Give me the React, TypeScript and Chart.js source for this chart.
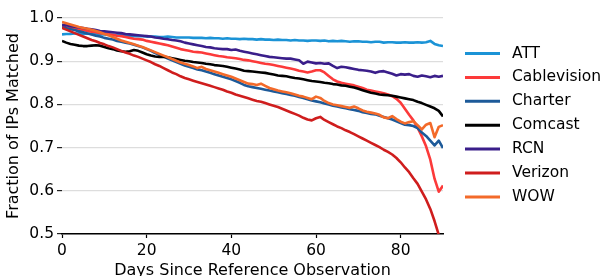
import { useEffect, useRef } from 'react';
import { Chart, registerables } from 'chart.js';

Chart.register(...registerables);

const days = [
  0, 1, 2, 3, 4, 5, 6, 7, 8, 9,
  10, 11, 12, 13, 14, 15, 16, 17, 18, 19,
  20, 21, 22, 23, 24, 25, 26, 27, 28, 29,
  30, 31, 32, 33, 34, 35, 36, 37, 38, 39,
  40, 41, 42, 43, 44, 45, 46, 47, 48, 49,
  50, 51, 52, 53, 54, 55, 56, 57, 58, 59,
  60, 61, 62, 63, 64, 65, 66, 67, 68, 69,
  70, 71, 72, 73, 74, 75, 76, 77, 78, 79,
  80, 81, 82, 83, 84, 85, 86, 87, 88, 89,
  90,
];

const seriesNames = ['ATT', 'Cablevision', 'Charter', 'Comcast', 'RCN', 'Verizon', 'WOW'];

const att = [
  0.962, 0.963, 0.963, 0.964, 0.964, 0.963, 0.964, 0.963, 0.962, 0.962,
  0.962, 0.961, 0.961, 0.960, 0.960, 0.959, 0.959, 0.958, 0.958, 0.958,
  0.957, 0.957, 0.957, 0.956, 0.956, 0.957, 0.956, 0.955, 0.955, 0.955,
  0.955, 0.954, 0.954, 0.954, 0.953, 0.954, 0.953, 0.953, 0.952, 0.953,
  0.952, 0.952, 0.951, 0.952, 0.951, 0.951, 0.950, 0.951, 0.950, 0.950,
  0.949, 0.950, 0.949, 0.949, 0.948, 0.949, 0.948, 0.948, 0.947, 0.948,
  0.948, 0.947, 0.948, 0.946, 0.947, 0.946, 0.947, 0.946, 0.945, 0.946,
  0.946, 0.945, 0.945, 0.944, 0.945, 0.945, 0.943, 0.944, 0.944, 0.943,
  0.943, 0.944, 0.943, 0.943, 0.944, 0.943, 0.944, 0.947, 0.940, 0.937,
  0.935,
];

const cablevision = [
  0.980, 0.978, 0.977, 0.975, 0.973, 0.972, 0.970, 0.968, 0.967, 0.965,
  0.964, 0.962, 0.961, 0.959, 0.958, 0.956, 0.954, 0.952, 0.951, 0.950,
  0.947, 0.945, 0.943, 0.941, 0.939, 0.937, 0.934, 0.931, 0.928, 0.926,
  0.924, 0.922, 0.921, 0.920, 0.918, 0.916, 0.914, 0.912, 0.911, 0.909,
  0.908, 0.907, 0.905, 0.903, 0.902, 0.900, 0.898, 0.896, 0.894, 0.893,
  0.891, 0.889, 0.887, 0.885, 0.883, 0.881, 0.878, 0.876, 0.874, 0.876,
  0.879, 0.879, 0.874, 0.866, 0.858, 0.853, 0.850, 0.848, 0.846, 0.844,
  0.841, 0.838, 0.834, 0.832, 0.830, 0.828, 0.826, 0.823, 0.819, 0.813,
  0.804, 0.790, 0.776, 0.763, 0.746, 0.726, 0.703, 0.672, 0.628, 0.598,
  0.612,
];

const charter = [
  0.978, 0.976, 0.974, 0.972, 0.969, 0.967, 0.964, 0.962, 0.959, 0.957,
  0.954, 0.952, 0.950, 0.947, 0.945, 0.943, 0.941, 0.938, 0.935, 0.932,
  0.928, 0.924, 0.919, 0.915, 0.911, 0.906, 0.902, 0.898, 0.894, 0.890,
  0.887, 0.884, 0.881, 0.879, 0.876, 0.873, 0.870, 0.867, 0.864, 0.861,
  0.858, 0.854, 0.850, 0.845, 0.842, 0.840, 0.838, 0.836, 0.834, 0.832,
  0.830, 0.828, 0.826, 0.824, 0.822, 0.820, 0.817, 0.815, 0.812, 0.809,
  0.807, 0.805, 0.802, 0.800, 0.797, 0.795, 0.793, 0.791, 0.789, 0.787,
  0.785, 0.782, 0.780, 0.778, 0.777, 0.774, 0.771, 0.768, 0.765, 0.761,
  0.757, 0.753, 0.752, 0.750, 0.745, 0.735, 0.727, 0.716, 0.705, 0.716,
  0.699,
];

const comcast = [
  0.947, 0.943, 0.940, 0.938, 0.936, 0.935, 0.935, 0.936, 0.937, 0.936,
  0.933, 0.930, 0.928, 0.925, 0.923, 0.922, 0.923, 0.926, 0.924, 0.920,
  0.916, 0.913, 0.911, 0.910, 0.910, 0.909, 0.907, 0.905, 0.903, 0.901,
  0.900, 0.898, 0.897, 0.896, 0.894, 0.893, 0.891, 0.890, 0.889, 0.887,
  0.885, 0.883, 0.881, 0.878, 0.877, 0.876, 0.875, 0.874, 0.873, 0.871,
  0.869, 0.867, 0.866, 0.865, 0.863, 0.861, 0.860, 0.858, 0.856, 0.854,
  0.853, 0.852, 0.850, 0.849, 0.847, 0.846, 0.844, 0.843, 0.841, 0.839,
  0.836, 0.833, 0.830, 0.827, 0.825, 0.823, 0.822, 0.821, 0.820, 0.818,
  0.816, 0.814, 0.812, 0.810, 0.806, 0.803, 0.799, 0.795, 0.791, 0.785,
  0.772,
];

const rcn = [
  0.984, 0.983, 0.981, 0.980, 0.978, 0.977, 0.975, 0.974, 0.972, 0.970,
  0.969, 0.968, 0.967, 0.966, 0.965, 0.963, 0.962, 0.961, 0.960, 0.959,
  0.958, 0.957, 0.955, 0.954, 0.952, 0.951, 0.949, 0.948, 0.946, 0.943,
  0.941, 0.939, 0.937, 0.935, 0.933, 0.932, 0.930, 0.929, 0.928, 0.928,
  0.926, 0.927, 0.924, 0.922, 0.920, 0.918, 0.916, 0.914, 0.912, 0.910,
  0.909, 0.908, 0.907, 0.906, 0.906, 0.904, 0.902, 0.894, 0.899, 0.897,
  0.895, 0.896, 0.894, 0.895, 0.889, 0.884, 0.887, 0.886, 0.884, 0.882,
  0.880, 0.879, 0.878, 0.876, 0.873, 0.876, 0.877, 0.874, 0.871, 0.867,
  0.870, 0.869, 0.870, 0.866, 0.864, 0.867, 0.865, 0.863, 0.866, 0.864,
  0.866,
];

const verizon = [
  0.977, 0.973, 0.969, 0.965, 0.961, 0.957, 0.953, 0.949, 0.946, 0.942,
  0.939, 0.935, 0.932, 0.928, 0.924, 0.920, 0.917, 0.913, 0.910, 0.906,
  0.902, 0.898, 0.893, 0.889, 0.884, 0.879, 0.874, 0.870, 0.865, 0.861,
  0.858, 0.855, 0.852, 0.849, 0.846, 0.843, 0.840, 0.837, 0.834, 0.830,
  0.827, 0.823, 0.820, 0.817, 0.814, 0.811, 0.808, 0.806, 0.803, 0.800,
  0.797, 0.794, 0.790, 0.786, 0.782, 0.778, 0.774, 0.769, 0.765, 0.763,
  0.768, 0.771, 0.764, 0.759, 0.754, 0.749, 0.745, 0.740, 0.736, 0.731,
  0.726, 0.721, 0.716, 0.711, 0.706, 0.701, 0.695, 0.690, 0.684, 0.676,
  0.666, 0.654, 0.643, 0.629, 0.616, 0.598, 0.580, 0.558, 0.530, 0.498,
  0.470,
];

const wow = [
  0.991, 0.988, 0.985, 0.982, 0.979, 0.977, 0.975, 0.973, 0.970, 0.967,
  0.963, 0.960, 0.956, 0.952, 0.948, 0.945, 0.942, 0.939, 0.936, 0.933,
  0.929, 0.925, 0.921, 0.917, 0.913, 0.909, 0.905, 0.901, 0.897, 0.894,
  0.891, 0.888, 0.884, 0.887, 0.882, 0.879, 0.876, 0.873, 0.870, 0.867,
  0.864, 0.860, 0.856, 0.852, 0.848, 0.847, 0.845, 0.848, 0.843, 0.838,
  0.835, 0.832, 0.830, 0.828, 0.826, 0.823, 0.820, 0.818, 0.815, 0.812,
  0.818, 0.815, 0.808, 0.803, 0.800, 0.798, 0.796, 0.794, 0.792, 0.795,
  0.791, 0.786, 0.783, 0.781, 0.779, 0.776, 0.770, 0.768, 0.773, 0.766,
  0.760, 0.756, 0.759, 0.761, 0.752, 0.742, 0.753, 0.757, 0.724, 0.748,
  0.752,
];

const seriesValues = [att, cablevision, charter, comcast, rcn, verizon, wow];
const seriesColors = ['#1b93d6', '#fc3a3a', '#1d5a99', '#000000', '#3a1e8a', '#cf1d1d', '#f36a2a'];

const xTicks = [0, 20, 40, 60, 80];
const yTicks = [0.5, 0.6, 0.7, 0.8, 0.9, 1.0];

const FONT = "'DejaVu Sans', 'Liberation Sans', sans-serif";

const sideLegend = {
  id: 'sideLegend',
  afterDraw(chart: any) {
    const ctx = chart.ctx;
    ctx.save();
    chart.data.datasets.forEach((ds: any, i: number) => {
      const y = 53.5 + i * 23.9;
      ctx.strokeStyle = ds.borderColor;
      ctx.lineWidth = 3;
      ctx.lineCap = 'butt';
      ctx.beginPath();
      ctx.moveTo(465, y);
      ctx.lineTo(500, y);
      ctx.stroke();
      ctx.fillStyle = '#000';
      ctx.font = `15.5px ${FONT}`;
      ctx.textBaseline = 'middle';
      ctx.textAlign = 'left';
      ctx.fillText(ds.label, 512, y);
    });
    ctx.restore();
  },
};

export default function App() {
  const ref = useRef<HTMLCanvasElement | null>(null);

  useEffect(() => {
    if (!ref.current) return;
    const chart = new Chart(ref.current, {
      type: 'line',
      data: {
        labels: days,
        datasets: seriesNames.map((name, i) => ({
          label: name,
          data: seriesValues[i],
          borderColor: seriesColors[i],
          backgroundColor: seriesColors[i],
          borderWidth: 2.6,
          pointRadius: 0,
          tension: 0,
          fill: false,
          borderJoinStyle: 'round' as const,
          order: seriesNames.length - i,
        })),
      },
      options: {
        animation: false,
        responsive: false,
        devicePixelRatio: 1,
        layout: { padding: { left: 0, right: 163, top: 18, bottom: -4 } },
        plugins: {
          legend: { display: false },
          tooltip: { enabled: false },
        },
        scales: {
          x: {
            type: 'linear',
            min: 0,
            max: 90,
            afterBuildTicks: (scale: any) => {
              scale.ticks = xTicks.map((v) => ({ value: v }));
            },
            afterFit: (scale: any) => {
              scale.height = 46;
            },
            ticks: {
              color: '#000',
              font: { family: FONT, size: 15.5 },
              padding: 4,
              maxRotation: 0,
              callback: (v: any) => String(v),
            },
            grid: {
              drawOnChartArea: false,
              drawTicks: true,
              tickLength: 4,
              tickColor: '#000',
              tickWidth: 1.2,
            },
            border: { display: true, color: '#000', width: 1.5 },
            title: {
              display: true,
              text: 'Days Since Reference Observation',
              color: '#000',
              font: { family: FONT, size: 16 },
              padding: { top: -3, bottom: 0 },
            },
          },
          y: {
            type: 'linear',
            min: 0.5,
            max: 1.0,
            afterBuildTicks: (scale: any) => {
              scale.ticks = yTicks.map((v) => ({ value: v }));
            },
            afterFit: (scale: any) => {
              scale.width = 62;
            },
            ticks: {
              color: '#000',
              font: { family: FONT, size: 15.5 },
              padding: 3,
              callback: (v: any) => Number(v).toFixed(1),
            },
            grid: {
              color: '#dddddd',
              lineWidth: 1.2,
              drawTicks: true,
              tickLength: 5,
              tickColor: '#222',
              tickWidth: 1.2,
            },
            border: { display: false },
            title: {
              display: true,
              text: 'Fraction of IPs Matched',
              color: '#000',
              font: { family: FONT, size: 16 },
              padding: { top: 4.4, bottom: 0 },
            },
          },
        },
      },
      plugins: [sideLegend],
    });
    return () => chart.destroy();
  }, []);

  return (
    <div style={{ position: 'fixed', left: 0, top: 0, width: 606, height: 276, background: '#fff' }}>
      <canvas ref={ref} width={606} height={276} style={{ display: 'block', width: 606, height: 276 }} />
    </div>
  );
}
